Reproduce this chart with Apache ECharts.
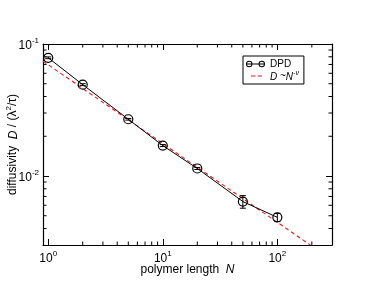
<!DOCTYPE html>
<html>
<head>
<meta charset="utf-8">
<script src="https://cdn.jsdelivr.net/npm/echarts@6/dist/echarts.min.js"></script>
<style>
html,body{margin:0;padding:0;background:#fff;}
#chart{width:374px;height:289px;}
</style>
</head>
<body>
<div id="chart"></div>
<script>
// ---- data ----
var polymerLength = [1, 2, 5, 10, 20, 50, 100];
var diffusivity   = [0.0786, 0.0492, 0.0269, 0.0170, 0.0114, 0.0064, 0.00486];
var diffusivityErr = [0.0012, 0.0008, 0.0004, 0.0003, 0.0002, 0.0007, 0.00035];
var fitN = [0.9, 194];
var fitD = [0.0741, 0.003];
var xRange = [0.9, 300];
var yRange = [0.003, 0.1];
var xMinorTicks = [2,3,4,5,6,7,8,9,20,30,40,50,60,70,80,90,200];
var yMinorTicks = [0.004,0.005,0.006,0.007,0.008,0.009,0.02,0.03,0.04,0.05,0.06,0.07,0.08,0.09];
var legendNames = ['DPD', 'fit'];

var FONT = 'Liberation Sans';

function powLabel(v) {
  var l = Math.log10(v);
  var e = Math.round(l);
  if (Math.abs(l - e) > 1e-6) return '';
  return '{b|10}{sup|' + e + '}';
}
var labelRich = {
  b: {fontSize: 12, fontFamily: FONT, color: '#000', lineHeight: 15, verticalAlign: 'bottom'},
  sup: {fontSize: 8, fontFamily: FONT, color: '#000', lineHeight: 8, verticalAlign: 'top'}
};

var mainLine = [], errData = [], fitLine = [];
for (var i = 0; i < polymerLength.length; i++) {
  mainLine.push([polymerLength[i], diffusivity[i]]);
  errData.push([polymerLength[i], diffusivity[i] - diffusivityErr[i], diffusivity[i] + diffusivityErr[i]]);
}
for (var j = 0; j < fitN.length; j++) fitLine.push([fitN[j], fitD[j]]);

function axisBase(pos, isX, showLabel) {
  return {
    type: 'log', logBase: 10, position: pos,
    min: isX ? xRange[0] : yRange[0], max: isX ? xRange[1] : yRange[1],
    axisLine: {show: true, onZero: false, lineStyle: {color: '#000', width: 1.2}},
    axisTick: {show: true, inside: true, length: 6, lineStyle: {color: '#000', width: 1}},
    splitLine: {show: false},
    minorTick: {show: false},
    nameMoveOverlap: false,
    axisLabel: {show: showLabel, formatter: powLabel, rich: labelRich, margin: isX ? 5 : 4, hideOverlap: false}
  };
}

var xBottom = axisBase('bottom', true, true);
xBottom.name = 'polymer length  {i|N}';
xBottom.nameLocation = 'middle';
xBottom.nameGap = 19;
xBottom.nameTextStyle = {fontSize: 12, fontFamily: FONT, color: '#000',
  rich: {i: {fontSize: 12, fontFamily: FONT, fontStyle: 'italic', color: '#000'}}};
var xTop = axisBase('top', true, false);

var yLeft = axisBase('left', false, true);
yLeft.name = 'diffusivity  {i|D} / (λ{sup|2}/τ)';
yLeft.nameLocation = 'middle';
yLeft.nameRotate = 90;
yLeft.nameGap = 23;
yLeft.nameTextStyle = {fontSize: 12, fontFamily: FONT, color: '#000',
  rich: {
    i: {fontSize: 12, fontFamily: FONT, fontStyle: 'italic', color: '#000', lineHeight: 15, verticalAlign: 'bottom'},
    sup: {fontSize: 8, fontFamily: FONT, color: '#000', lineHeight: 8, verticalAlign: 'top'}
  }};
var yRight = axisBase('right', false, false);

var dpdIcon = 'path://M0.4,3.5A3.1,3.1 0 1,1 6.6,3.5A3.1,3.1 0 1,1 0.4,3.5Z' +
  'M1.3,3.5A2.2,2.2 0 1,0 5.7,3.5A2.2,2.2 0 1,0 1.3,3.5Z' +
  'M12.4,3.5A3.1,3.1 0 1,1 18.6,3.5A3.1,3.1 0 1,1 12.4,3.5Z' +
  'M13.3,3.5A2.2,2.2 0 1,0 17.7,3.5A2.2,2.2 0 1,0 13.3,3.5Z' +
  'M0.4,3h18.2v1h-18.2Z';
var fitIcon = 'path://M0,0h0.01v0.01h-0.01Z M18.99,6.99h0.01v0.01h-0.01Z M5,3h4.5v1.1h-4.5Z M11.5,3h4.5v1.1h-4.5Z';

var chart = echarts.init(document.getElementById('chart'), null, {renderer: 'canvas'});
chart.setOption({
  animation: false,
  backgroundColor: '#fff',
  grid: {left: 43, right: 42, top: 44, bottom: 44, containLabel: false, outerBoundsMode: 'none'},
  xAxis: [xBottom, xTop],
  yAxis: [yLeft, yRight],
  legend: {
    left: 243, top: 56, orient: 'vertical',
    padding: [3, 5, 2, 3], itemGap: 1,
    itemWidth: 19, itemHeight: 7,
    borderColor: '#000', borderWidth: 1, backgroundColor: '#fff',
    data: [
      {name: legendNames[0], icon: dpdIcon, itemStyle: {color: '#000', borderWidth: 0}},
      {name: legendNames[1], icon: fitIcon, itemStyle: {color: '#f01818', borderWidth: 0}}
    ],
    textStyle: {fontSize: 10, fontFamily: FONT, color: '#000',
      rich: {
        i: {fontSize: 10, fontFamily: FONT, fontStyle: 'italic', color: '#000', lineHeight: 12, verticalAlign: 'bottom'},
        sup: {fontSize: 7, fontFamily: FONT, fontStyle: 'italic', color: '#000', lineHeight: 7, verticalAlign: 'top'}
      }},
    formatter: function (name) {
      if (name === 'fit') return '{i|D} ~{i|N}{sup|-ν}';
      return name;
    }
  },
  series: [
    {
      name: 'fit', type: 'line', data: fitLine, symbol: 'none',
      lineStyle: {color: '#f01818', width: 1.1, type: [4, 3]},
      itemStyle: {color: '#f01818'}, z: 3, silent: true
    },
    {
      name: 'DPD', type: 'line', data: mainLine,
      symbol: 'circle', symbolSize: 9, showSymbol: true,
      lineStyle: {color: '#000', width: 1},
      itemStyle: {color: 'rgba(0,0,0,0)', borderColor: '#000', borderWidth: 1.2},
      z: 4, silent: true
    },
    {
      name: 'err', type: 'custom', data: errData, z: 5, silent: true,
      encode: {x: 0, y: [1, 2]},
      renderItem: function (params, api) {
        var x = api.value(0);
        var lo = api.coord([x, api.value(1)]);
        var hi = api.coord([x, api.value(2)]);
        var w = 3;
        return {type: 'group', children: [
          {type: 'line', shape: {x1: lo[0], y1: lo[1], x2: hi[0], y2: hi[1]}, style: {stroke: '#000', lineWidth: 1}},
          {type: 'line', shape: {x1: lo[0]-w, y1: lo[1], x2: lo[0]+w, y2: lo[1]}, style: {stroke: '#000', lineWidth: 1}},
          {type: 'line', shape: {x1: hi[0]-w, y1: hi[1], x2: hi[0]+w, y2: hi[1]}, style: {stroke: '#000', lineWidth: 1}}
        ]};
      }
    },
    {
      name: 'xminor', type: 'custom', data: xMinorTicks.map(function (v) { return [v, yRange[0]]; }),
      encode: {x: 0, y: 1}, silent: true, z: 6,
      renderItem: function (params, api) {
        var cs = params.coordSys;
        var px = api.coord([api.value(0), api.value(1)])[0];
        var L = 3.5;
        return {type: 'group', children: [
          {type: 'line', shape: {x1: px, y1: cs.y + cs.height, x2: px, y2: cs.y + cs.height - L}, style: {stroke: '#000', lineWidth: 1}},
          {type: 'line', shape: {x1: px, y1: cs.y, x2: px, y2: cs.y + L}, style: {stroke: '#000', lineWidth: 1}}
        ]};
      }
    },
    {
      name: 'yminor', type: 'custom', data: yMinorTicks.map(function (v) { return [xRange[0], v]; }),
      encode: {x: 0, y: 1}, silent: true, z: 6,
      renderItem: function (params, api) {
        var cs = params.coordSys;
        var py = api.coord([api.value(0), api.value(1)])[1];
        var L = 3.5;
        return {type: 'group', children: [
          {type: 'line', shape: {x1: cs.x, y1: py, x2: cs.x + L, y2: py}, style: {stroke: '#000', lineWidth: 1}},
          {type: 'line', shape: {x1: cs.x + cs.width, y1: py, x2: cs.x + cs.width - L, y2: py}, style: {stroke: '#000', lineWidth: 1}}
        ]};
      }
    }
  ]
});
</script>
</body>
</html>
